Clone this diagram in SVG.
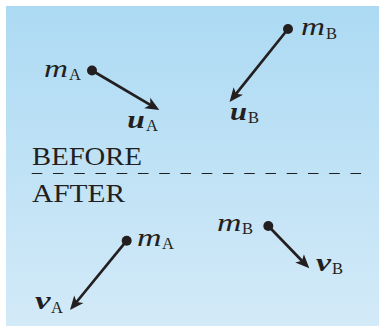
<svg xmlns="http://www.w3.org/2000/svg" width="379" height="329" viewBox="0 0 379 329">
<style>
.t{font-family:"Liberation Serif","Times New Roman",serif;fill:#231f20}
.m{font-style:italic;font-size:25px}
.b{font-style:italic;font-weight:bold;font-size:25px}
.s{font-size:16.5px}
.w{font-size:25px}
.arr{stroke:#231f20;stroke-width:2.7;fill:none;marker-end:url(#ah)}
.dot{fill:#231f20}
</style>
<defs>
<linearGradient id="bg" x1="0" y1="0" x2="0" y2="1">
<stop offset="0" stop-color="#acdaf3"/>
<stop offset="1" stop-color="#d3eaf8"/>
</linearGradient>
<marker id="ah" markerUnits="userSpaceOnUse" viewBox="-9 -7 18 14" refX="0" refY="0" markerWidth="18" markerHeight="14" orient="auto">
<path d="M6.5,0 L-7.5,-6 L-4,0 L-7.5,6 Z" fill="#231f20"/>
</marker>
</defs>
<rect x="6" y="6" width="373" height="320" fill="url(#bg)"/>
<g id="connectors">
<line class="arr" x1="92" y1="70.5" x2="153.7" y2="106.8"/>
<line class="arr" x1="288" y1="29" x2="233.6" y2="96.9"/>
<line class="arr" x1="126.7" y1="240.7" x2="74.1" y2="305"/>
<line class="arr" x1="268.3" y1="226" x2="304.8" y2="263.7"/>
</g>
<g id="mA-before">
<circle class="dot" cx="92" cy="70.5" r="5"/>
<text class="t m" x="44" y="76.5" textLength="24" lengthAdjust="spacingAndGlyphs">m</text>
<text class="t s" x="69" y="80">A</text>
</g>
<g id="uA">
<text class="t b" x="127.3" y="128.3" textLength="17.5" lengthAdjust="spacingAndGlyphs">u</text>
<text class="t s" x="146" y="131">A</text>
</g>
<g id="mB-before">
<circle class="dot" cx="288" cy="29" r="5"/>
<text class="t m" x="301" y="35" textLength="24" lengthAdjust="spacingAndGlyphs">m</text>
<text class="t s" x="326" y="38.5">B</text>
</g>
<g id="uB">
<text class="t b" x="230" y="120" textLength="17" lengthAdjust="spacingAndGlyphs">u</text>
<text class="t s" x="248" y="123">B</text>
</g>
<g id="labels">
<text class="t w" x="32" y="165" textLength="110" lengthAdjust="spacingAndGlyphs">BEFORE</text>
<line x1="31.7" y1="173.5" x2="361.7" y2="173.5" stroke="#231f20" stroke-width="1.1" stroke-dasharray="10.6 10.65"/>
<text class="t w" x="32" y="201.7" textLength="93" lengthAdjust="spacingAndGlyphs">AFTER</text>
</g>
<g id="mA-after">
<circle class="dot" cx="126.7" cy="240.7" r="5"/>
<text class="t m" x="137" y="246" textLength="24.5" lengthAdjust="spacingAndGlyphs">m</text>
<text class="t s" x="162" y="249.3">A</text>
</g>
<g id="vA">
<text class="t b" x="35" y="309" textLength="15.5" lengthAdjust="spacingAndGlyphs">v</text>
<text class="t s" x="51" y="312.5">A</text>
</g>
<g id="mB-after">
<circle class="dot" cx="268.3" cy="226" r="5"/>
<text class="t m" x="217" y="231" textLength="24.5" lengthAdjust="spacingAndGlyphs">m</text>
<text class="t s" x="242" y="234.3">B</text>
</g>
<g id="vB">
<text class="t b" x="316" y="271" textLength="15" lengthAdjust="spacingAndGlyphs">v</text>
<text class="t s" x="332" y="274">B</text>
</g>
</svg>
